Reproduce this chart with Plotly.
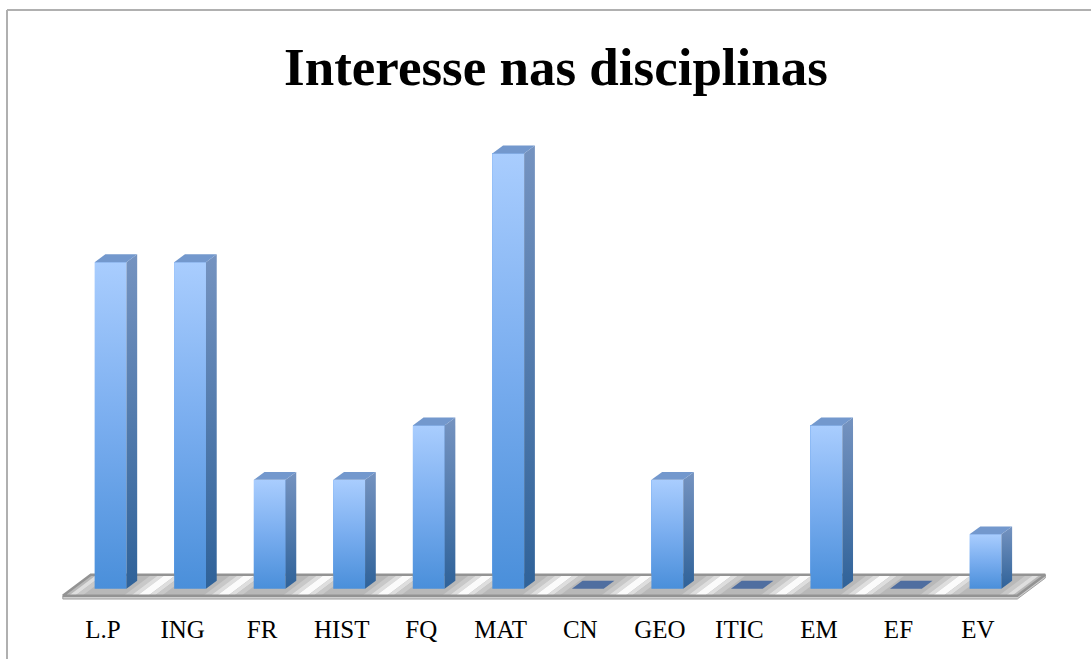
import plotly.graph_objects as go

# ---- data ----
categories = ["L.P", "ING", "FR", "HIST", "FQ", "MAT", "CN", "GEO", "ITIC", "EM", "EF", "EV"]
values = [6, 6, 2, 2, 3, 8, 0, 2, 0, 3, 0, 1]
title_text = "Interesse nas disciplinas"

# ---- style constants (3D look) ----
HALF_W = 0.2      # half width of bar front face (category units)
DX = 0.135        # depth offset in x (category units)
DY = 0.145        # depth offset in y (value units)
FLOOR_FRONT_Y = -0.13
FLOOR_BACK_Y = 0.255
FLOOR_DX = 0.352
FLOOR_LEFT = -0.6
FLOOR_RIGHT = 11.4
SLAB = 0.06

FRONT_SCALE = [[0, "#4a8fda"], [0.5, "#79adef"], [1, "#a9cdfe"]]
SIDE_SCALE = [[0, "#2f6299"], [1, "#7593c0"]]
TOP_COLOR = "#7398cd"
TOP_ZERO_COLOR = "#4f6ea0"

W, H = 1091, 659
L, R, T, B = 31, 26, 99, 54
plot_w = W - L - R
plot_h = H - T - B

fig = go.Figure()

# floor slab (front edge thickness)
fig.add_trace(go.Scatter(
    x=[FLOOR_LEFT, FLOOR_RIGHT, FLOOR_RIGHT + FLOOR_DX, FLOOR_RIGHT + FLOOR_DX, FLOOR_RIGHT, FLOOR_LEFT, FLOOR_LEFT],
    y=[FLOOR_FRONT_Y, FLOOR_FRONT_Y, FLOOR_BACK_Y, FLOOR_BACK_Y - SLAB, FLOOR_FRONT_Y - SLAB, FLOOR_FRONT_Y - SLAB, FLOOR_FRONT_Y],
    fill="toself", fillcolor="#cfcfcf", mode="lines",
    line=dict(color="#a0a0a0", width=1), hoverinfo="skip", showlegend=False))

# floor top
fig.add_trace(go.Scatter(
    x=[FLOOR_LEFT, FLOOR_RIGHT, FLOOR_RIGHT + FLOOR_DX, FLOOR_LEFT + FLOOR_DX, FLOOR_LEFT],
    y=[FLOOR_FRONT_Y, FLOOR_FRONT_Y, FLOOR_BACK_Y, FLOOR_BACK_Y, FLOOR_FRONT_Y],
    fill="toself", fillcolor="#b8b8b8", mode="lines",
    line=dict(color="#b8b8b8", width=0), hoverinfo="skip", showlegend=False))

# floor glare streaks (slanted, one per category gap)
streak_bands = [(-0.24, -0.15, "#c8c8c8"), (-0.15, -0.07, "#dedede"), (-0.07, 0.07, "#fbfbfb"),
                (0.07, 0.15, "#dedede"), (0.15, 0.24, "#c8c8c8")]
for i in range(-1, len(categories)):
    cx = i + 0.58
    for a, b, col in streak_bands:
        x0, x1 = cx + a - FLOOR_DX / 2, cx + b - FLOOR_DX / 2
        if x0 < FLOOR_LEFT or x1 + FLOOR_DX > FLOOR_RIGHT + FLOOR_DX:
            continue
        fig.add_trace(go.Scatter(
            x=[x0, x1, x1 + FLOOR_DX, x0 + FLOOR_DX, x0],
            y=[FLOOR_FRONT_Y, FLOOR_FRONT_Y, FLOOR_BACK_Y, FLOOR_BACK_Y, FLOOR_FRONT_Y],
            fill="toself", fillcolor=col, mode="lines", line=dict(width=0),
            hoverinfo="skip", showlegend=False))

# floor outline
fig.add_trace(go.Scatter(
    x=[FLOOR_LEFT, FLOOR_RIGHT, FLOOR_RIGHT + FLOOR_DX, FLOOR_LEFT + FLOOR_DX, FLOOR_LEFT],
    y=[FLOOR_FRONT_Y, FLOOR_FRONT_Y, FLOOR_BACK_Y, FLOOR_BACK_Y, FLOOR_FRONT_Y],
    mode="lines", line=dict(color="#939393", width=2.5), hoverinfo="skip", showlegend=False))

# base bar trace (front faces)
fig.add_trace(go.Bar(
    x=list(range(len(categories))), y=values, width=2 * HALF_W,
    marker=dict(color="#79adef", line=dict(width=0)),
    hovertext=categories, hoverinfo="text+y", showlegend=False))

# 3D faces built from values
for i, v in enumerate(values):
    xl, xr = i - HALF_W, i + HALF_W
    if v > 0:
        # front face with vertical gradient
        fig.add_trace(go.Scatter(
            x=[xl, xr, xr, xl, xl], y=[0, 0, v, v, 0],
            fill="toself", fillgradient=dict(type="vertical", colorscale=FRONT_SCALE),
            mode="lines", line=dict(width=0), hoverinfo="skip", showlegend=False))
        # side face
        fig.add_trace(go.Scatter(
            x=[xr, xr + DX, xr + DX, xr, xr], y=[0, DY, v + DY, v, 0],
            fill="toself", fillgradient=dict(type="vertical", colorscale=SIDE_SCALE),
            mode="lines", line=dict(width=0), hoverinfo="skip", showlegend=False))
    # top face
    fig.add_trace(go.Scatter(
        x=[xl, xr, xr + DX, xl + DX, xl], y=[v, v, v + DY, v + DY, v],
        fill="toself", fillcolor=TOP_COLOR if v > 0 else TOP_ZERO_COLOR,
        mode="lines", line=dict(width=0), hoverinfo="skip", showlegend=False))

# chart-area border (left and top edges visible)
def px_x(px):
    return (px - L) / plot_w

def px_y(py):
    return (H - B - py) / plot_h

border = dict(color="#b0b0b0", width=2)
fig.add_shape(type="line", xref="paper", yref="paper",
              x0=px_x(7), x1=px_x(7), y0=px_y(10), y1=px_y(H + 20), line=border)
fig.add_shape(type="line", xref="paper", yref="paper",
              x0=px_x(7), x1=px_x(W + 20), y0=px_y(10), y1=px_y(10), line=border)

fig.update_layout(
    width=W, height=H,
    margin=dict(l=L, r=R, t=T, b=B),
    paper_bgcolor="white", plot_bgcolor="white",
    title=dict(text=f"<b>{title_text}</b>", x=556 / W, xanchor="center",
               xref="container", yref="container", y=1 - 66 / H, yanchor="middle",
               font=dict(family="Liberation Serif", size=53, color="black")),
    xaxis=dict(range=[-1, 12], tickmode="array",
               tickvals=[i - 0.094 for i in range(len(categories))], ticktext=categories,
               showgrid=False, zeroline=False, showline=False, ticks="",
               ticklabelstandoff=7,
               tickfont=dict(family="Liberation Serif", size=25, color="black")),
    yaxis=dict(range=[-0.3, 9], visible=False, showgrid=False, zeroline=False),
    bargap=0,
)

fig.write_html("out.html", config={"displayModeBar": False},
               post_script="document.body.style.margin='0';")
